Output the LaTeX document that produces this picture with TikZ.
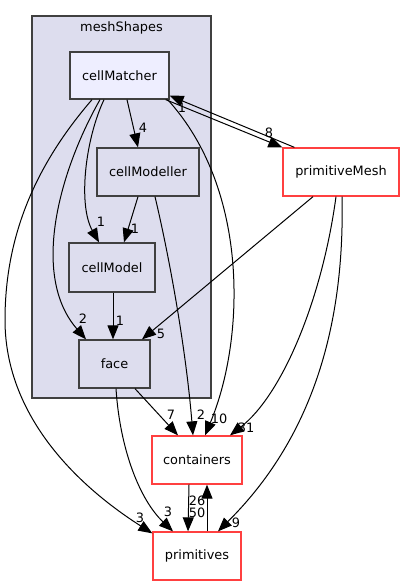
\documentclass[tikz,border=0pt]{standalone}
\usepackage{fontspec}
\setmainfont{DejaVu Sans}
\usetikzlibrary{arrows.meta}
\definecolor{clfill}{HTML}{DDDDEE}
\definecolor{clborder}{HTML}{404040}
\definecolor{topfill}{HTML}{EEEEFF}
\definecolor{redb}{HTML}{FF4040}
\tikzset{
  box/.style={draw=clborder, fill=clfill, line width=1.3pt, inner sep=0pt, anchor=center,
    font=\fontsize{12.9}{15}\selectfont},
  topbox/.style={box, fill=topfill},
  extbox/.style={draw=redb, fill=white, line width=1.3pt, inner sep=0pt, anchor=center,
    font=\fontsize{12.9}{15}\selectfont},
  dep/.style={draw=black, line width=1pt, -{Triangle[length=14pt,width=11pt]}},
  lbl/.style={inner sep=0pt, font=\fontsize{12.9}{15}\selectfont}
}
\begin{document}
\begin{tikzpicture}[x=1pt,y=-1pt]
\useasboundingbox (0,0) rectangle (405,585);
% cluster
\node[draw=clborder, fill=clfill, line width=1.3pt, minimum width=179pt, minimum height=382pt, inner sep=0pt] (cluster) at (121.5,207) {};
\node[lbl] (clusterlabel) at (121.5,28) {meshShapes};
% nodes
\node[topbox, minimum width=99pt, minimum height=47pt] (cm) at (119.5,75.5) {cellMatcher};
\node[box, minimum width=102pt, minimum height=48pt] (cmd) at (148,172) {cellModeller};
\node[box, minimum width=86pt, minimum height=49pt] (cml) at (112,267.5) {cellModel};
\node[box, minimum width=71pt, minimum height=48pt] (fc) at (114.5,364) {face};
\node[extbox, minimum width=116pt, minimum height=48pt] (pm) at (341,172) {primitiveMesh};
\node[extbox, minimum width=90pt, minimum height=48pt] (ct) at (197,460) {containers};
\node[extbox, minimum width=88pt, minimum height=48pt] (pr) at (197,556) {primitives};
% edges
\draw[dep] ([xshift=7.5pt]cm.south) -- ([xshift=-10pt]cmd.north);
\draw[dep] ([xshift=-15.5pt]cm.south) .. controls (85,140) and (78,205) .. ([xshift=-13pt]cml.north);
\draw[dep] ([xshift=-19.5pt]cm.south) .. controls (60,170) and (30,275) .. ([xshift=-28.5pt]fc.north);
\draw[dep] ([xshift=-27.5pt]cm.south) .. controls (40,160) and (5,230) .. (5,320) .. controls (5,430) and (100,500) .. ([yshift=-2pt]pr.north west);
\draw[dep] ([xshift=-2pt]cm.south east) .. controls (250,190) and (245,340) .. ([xshift=8pt]ct.north);
\draw[dep] ([xshift=-4pt]cm.south east) -- (pm.north west);
\draw[dep] ([xshift=12pt]pm.north west) -- ([yshift=4pt]cm.south east);
\draw[dep] ([xshift=-10pt]cmd.south) -- ([xshift=12pt]cml.north);
\draw[dep] ([xshift=7pt]cmd.south) .. controls (170,260) and (186,350) .. ([xshift=-4pt]ct.north);
\draw[dep] ([xshift=1pt]cml.south) -- ([xshift=-1.5pt]fc.north);
\draw[dep] ([xshift=20.5pt]fc.south) -- ([xshift=-19pt]ct.north);
\draw[dep] ([xshift=1.5pt]fc.south) .. controls (120,450) and (140,500) .. ([xshift=-24pt]pr.north);
\draw[dep] ([xshift=-28pt]pm.south) -- ([xshift=27.5pt]fc.north);
\draw[dep] ([xshift=-5pt]pm.south) .. controls (322,300) and (282,395) .. ([xshift=33pt]ct.north);
\draw[dep] ([xshift=1pt]pm.south) .. controls (345,330) and (310,440) .. ([xshift=21pt]pr.north);
\draw[dep] ([xshift=-8pt]ct.south) -- ([xshift=-9pt]pr.north);
\draw[dep] ([xshift=10pt]pr.north) -- ([xshift=10pt]ct.south);
% labels
\node[lbl] (l1) at (143,128) {4};
\node[lbl] (l2) at (101,222) {1};
\node[lbl] (l3) at (83,319) {2};
\node[lbl] (l4) at (140,518) {3};
\node[lbl] (l5) at (219,419) {10};
\node[lbl] (l6) at (269,133) {8};
\node[lbl] (l7) at (182,108) {1};
\node[lbl] (l8) at (135,229) {1};
\node[lbl] (l9) at (201,415) {2};
\node[lbl] (l10) at (120,321) {1};
\node[lbl] (l11) at (171,415) {7};
\node[lbl] (l12) at (168,512) {3};
\node[lbl] (l13) at (161,334) {5};
\node[lbl] (l14) at (246,428) {31};
\node[lbl] (l15) at (236,523) {9};
\node[lbl] (l16) at (197,513) {50};
\node[lbl] (l17) at (197,501) {26};
\end{tikzpicture}
\end{document}
